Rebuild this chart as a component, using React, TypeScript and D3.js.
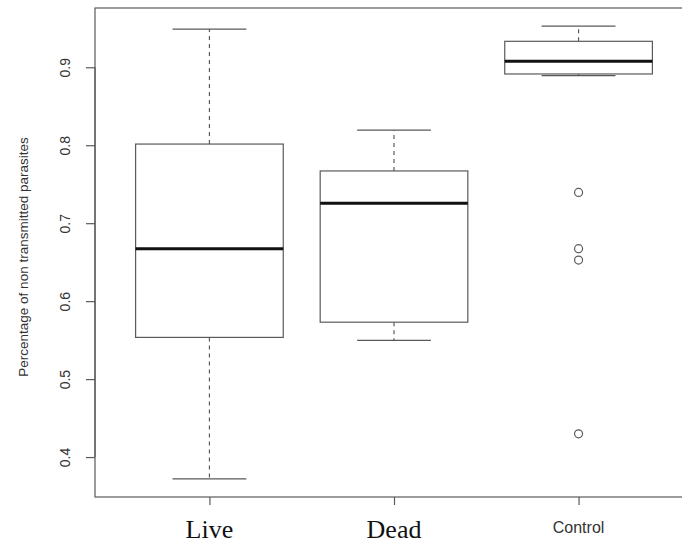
import React, { useEffect, useRef } from 'react'
import * as d3 from 'd3'

// groups and their five-number summaries
const groups = ['Live', 'Dead', 'Control']
const lowerWhisker = [0.372, 0.5496, 0.8893]
const lowerHinge = [0.5535, 0.573, 0.8914]
const medians = [0.6673, 0.7256, 0.9077]
const upperHinge = [0.8015, 0.767, 0.9333]
const upperWhisker = [0.949, 0.8194, 0.9528]
const outliers = [[], [], [0.7395, 0.6673, 0.6527, 0.4298]]
const yTicks = [0.4, 0.5, 0.6, 0.7, 0.8, 0.9]

const WIDTH = 682
const HEIGHT = 545

function App() {
    const ref = useRef<SVGSVGElement | null>(null)

    useEffect(() => {
        const svg = d3.select(ref.current)
        svg.selectAll('*').remove()

        const plot = { left: 95, top: 8, right: 693, bottom: 497 }

        // R style: data range padded by 4%
        const lo = d3.min(lowerWhisker.concat(...outliers)) as number
        const hi = d3.max(upperWhisker) as number
        const pad = (hi - lo) * 0.04
        const y = d3.scaleLinear().domain([lo - pad, hi + pad]).range([plot.bottom, plot.top])
        const x = d3.scaleLinear().domain([0.38, 3.62]).range([plot.left, plot.right])
        const boxW = x(1.8) - x(1)   // boxwex 0.8
        const capW = boxW / 2

        const grey = '#5a5a5a'
        const sans = 'Liberation Sans, Arial, sans-serif'

        // frame
        svg.append('rect')
            .attr('x', plot.left).attr('y', plot.top)
            .attr('width', plot.right - plot.left).attr('height', plot.bottom - plot.top)
            .attr('fill', 'none').attr('stroke', grey).attr('stroke-width', 1.2)

        // y axis
        const yAxis = svg.append('g')
            .attr('transform', 'translate(' + plot.left + ',0)')
            .call(d3.axisLeft(y).tickValues(yTicks).tickSize(9).tickFormat(d3.format('.1f')))
        yAxis.select('.domain').attr('d', 'M0,' + y(0.4) + 'V' + y(0.9)).attr('stroke', grey).attr('stroke-width', 1.2)
        yAxis.selectAll('.tick line').attr('stroke', grey).attr('stroke-width', 1.2)
        yAxis.selectAll('.tick text')
            .attr('transform', 'rotate(-90)')
            .attr('x', 0).attr('y', -25).attr('dy', 0)
            .attr('text-anchor', 'middle')
            .style('font-family', sans).style('font-size', '14px').attr('fill', '#333')

        // x axis
        const xAxis = svg.append('g')
            .attr('transform', 'translate(0,' + plot.bottom + ')')
            .call(d3.axisBottom(x).tickValues([1, 2, 3]).tickSize(8).tickFormat(() => ''))
        xAxis.select('.domain').remove()
        xAxis.selectAll('.tick line').attr('stroke', grey).attr('stroke-width', 1.2)

        groups.forEach((g, i) => {
            const cx = x(i + 1)
            const b = svg.append('g')
            // whiskers
            b.append('line').attr('x1', cx).attr('x2', cx)
                .attr('y1', y(upperHinge[i])).attr('y2', y(upperWhisker[i]))
                .attr('stroke', grey).attr('stroke-width', 1.2).attr('stroke-dasharray', '4,4')
            b.append('line').attr('x1', cx).attr('x2', cx)
                .attr('y1', y(lowerHinge[i])).attr('y2', y(lowerWhisker[i]))
                .attr('stroke', grey).attr('stroke-width', 1.2).attr('stroke-dasharray', '4,4')
            b.append('line').attr('x1', cx - capW / 2).attr('x2', cx + capW / 2)
                .attr('y1', y(upperWhisker[i])).attr('y2', y(upperWhisker[i]))
                .attr('stroke', grey).attr('stroke-width', 1.2)
            b.append('line').attr('x1', cx - capW / 2).attr('x2', cx + capW / 2)
                .attr('y1', y(lowerWhisker[i])).attr('y2', y(lowerWhisker[i]))
                .attr('stroke', grey).attr('stroke-width', 1.2)
            // box
            b.append('rect')
                .attr('x', cx - boxW / 2).attr('y', y(upperHinge[i]))
                .attr('width', boxW).attr('height', y(lowerHinge[i]) - y(upperHinge[i]))
                .attr('fill', 'white').attr('stroke', grey).attr('stroke-width', 1.2)
            // median
            b.append('line').attr('x1', cx - boxW / 2).attr('x2', cx + boxW / 2)
                .attr('y1', y(medians[i])).attr('y2', y(medians[i]))
                .attr('stroke', '#111').attr('stroke-width', 3)
            // outliers
            b.selectAll('circle').data(outliers[i]).enter().append('circle')
                .attr('cx', cx).attr('cy', d => y(d)).attr('r', 4)
                .attr('fill', 'none').attr('stroke', grey).attr('stroke-width', 1.2)

            // category labels (Live/Dead serif, Control sans as in the original)
            const isSans = g === 'Control'
            svg.append('text')
                .attr('x', cx).attr('y', isSans ? 533 : 538)
                .attr('text-anchor', 'middle')
                .style('font-family', isSans ? sans : 'Liberation Serif, Times New Roman, serif')
                .style('font-size', isSans ? '16px' : '26px')
                .attr('fill', isSans ? '#333' : '#111')
                .text(g)
        })

        // y title
        svg.append('text')
            .attr('transform', 'translate(28,257) rotate(-90)')
            .attr('text-anchor', 'middle')
            .style('font-family', sans).style('font-size', '13.5px').attr('fill', '#333')
            .text('Percentage of non transmitted parasites')
    }, [])

    return <svg ref={ref} width={WIDTH} height={HEIGHT}
                style={{ position: 'absolute', left: 0, top: 0, background: 'white' }}>
    </svg>
}

export default App
